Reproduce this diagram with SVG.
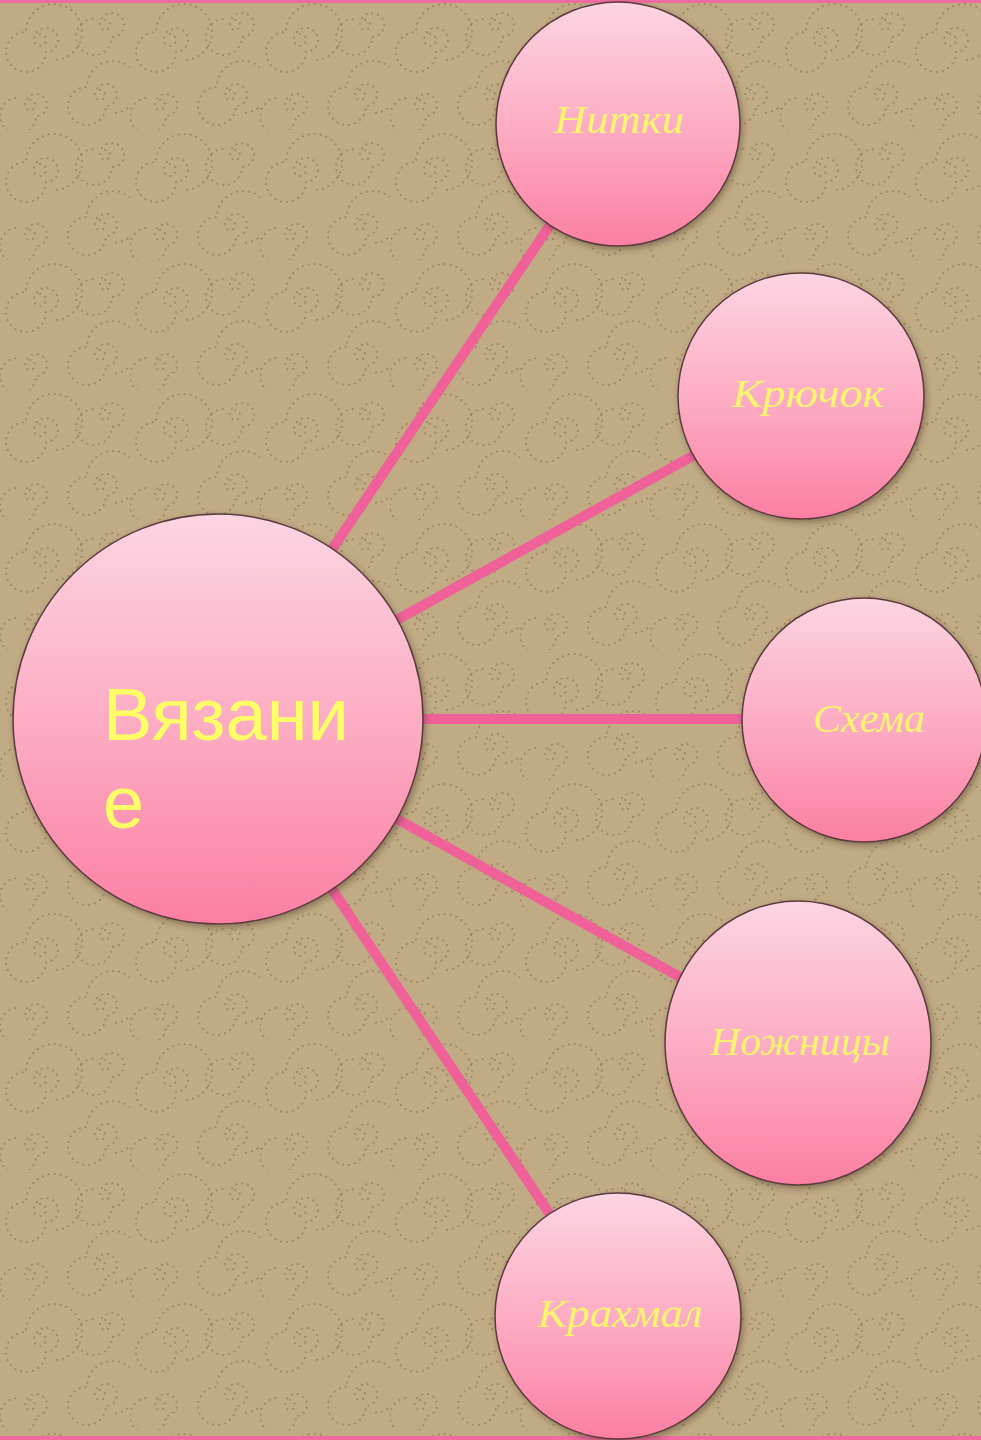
<svg xmlns="http://www.w3.org/2000/svg" width="981" height="1440" viewBox="0 0 981 1440">
<style>
.bg{fill:#c0ab85}
.link{stroke:#f0619a;stroke-width:10;stroke-linecap:butt}
.node{fill:url(#pink);stroke:#5c3b3e;stroke-width:1.5;filter:url(#sh)}
.lbl{font-family:"Liberation Serif","DejaVu Serif",serif;font-style:italic;font-size:40px;fill:#f9f56e;text-anchor:middle}
.main{font-family:"Liberation Sans",Arial,sans-serif;font-size:74px;fill:#ffff66}
.dots{fill:none;stroke:#8f7a50;stroke-width:2.2;stroke-linecap:round;stroke-dasharray:0 6;opacity:0.7}
</style>
<defs>
<linearGradient id="pink" x1="0" y1="0" x2="0" y2="1">
<stop offset="0" stop-color="#fdd5e2"/>
<stop offset="0.55" stop-color="#fca9c1"/>
<stop offset="1" stop-color="#fb7fa3"/>
</linearGradient>
<filter id="sh" x="-20%" y="-20%" width="140%" height="140%">
<feDropShadow dx="2" dy="3" stdDeviation="3" flood-color="#4a3520" flood-opacity="0.45"/>
</filter>
<pattern id="swirl" width="130" height="130" patternUnits="userSpaceOnUse">
<path class="dots" d="M40 40 m0 -6 a6 6 0 1 1 -6 6 a12 12 0 1 1 12 12 a20 20 0 1 1 -20 -20 a28 28 0 1 1 28 28"/>
<path class="dots" d="M100 95 m0 -5 a5 5 0 1 1 -5 5 a11 11 0 1 1 11 11 a19 19 0 1 1 -19 -19 a26 26 0 1 1 26 26"/>
<path class="dots" d="M105 25 m0 -5 a5 5 0 1 1 -5 5 a12 12 0 1 1 12 12 a18 18 0 1 1 -18 -18"/>
<path class="dots" d="M30 105 m0 -5 a5 5 0 1 1 -5 5 a11 11 0 1 1 11 11 a18 18 0 1 1 -18 -18"/>
</pattern>
</defs>
<rect class="bg" x="0" y="0" width="981" height="1440"/>
<rect x="0" y="0" width="981" height="1440" fill="url(#swirl)"/>
<rect x="0" y="0" width="981" height="3" fill="#f06ba0"/>
<rect x="0" y="1436" width="981" height="4" fill="#f06ba0"/>
<g id="connectors">
<line class="link" x1="218" y1="719" x2="618" y2="124"/>
<line class="link" x1="218" y1="719" x2="801" y2="396"/>
<line class="link" x1="218" y1="719" x2="864" y2="719"/>
<line class="link" x1="218" y1="719" x2="798" y2="1043"/>
<line class="link" x1="218" y1="719" x2="618" y2="1316"/>
</g>
<g id="node-main">
<circle class="node" cx="218" cy="719" r="205"/>
<text class="main" x="103" y="740">Вязани</text>
<text class="main" x="103" y="828">е</text>
</g>
<g id="node-nitki">
<circle class="node" cx="618" cy="124" r="122"/>
<text class="lbl" x="619" y="133" textLength="130" lengthAdjust="spacingAndGlyphs">Нитки</text>
</g>
<g id="node-kryuchok">
<circle class="node" cx="801" cy="396" r="123"/>
<text class="lbl" x="808" y="407" textLength="152" lengthAdjust="spacingAndGlyphs">Крючок</text>
</g>
<g id="node-skhema">
<circle class="node" cx="864" cy="720" r="122"/>
<text class="lbl" x="869" y="732" textLength="112" lengthAdjust="spacingAndGlyphs">Схема</text>
</g>
<g id="node-nozhnitsy">
<ellipse class="node" cx="798" cy="1043" rx="133" ry="142"/>
<text class="lbl" x="800" y="1055" textLength="180" lengthAdjust="spacingAndGlyphs">Ножницы</text>
</g>
<g id="node-krakhmal">
<circle class="node" cx="618" cy="1316" r="123"/>
<text class="lbl" x="620" y="1327" textLength="165" lengthAdjust="spacingAndGlyphs">Крахмал</text>
</g>
</svg>
